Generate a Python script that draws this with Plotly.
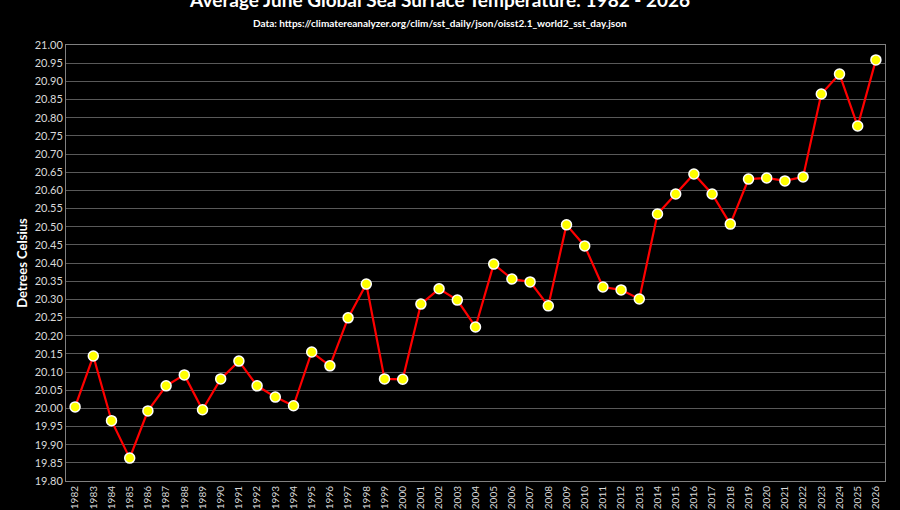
import plotly.graph_objects as go

years = [str(y) for y in range(1982, 2027)]
temps = [20.004, 20.144, 19.966, 19.863, 19.993, 20.062, 20.092, 19.996, 20.081, 20.130,
         20.062, 20.031, 20.007, 20.155, 20.117, 20.249, 20.342, 20.081, 20.080, 20.287,
         20.329, 20.298, 20.224, 20.397, 20.356, 20.348, 20.282, 20.505, 20.447, 20.334,
         20.326, 20.301, 20.535, 20.590, 20.645, 20.590, 20.507, 20.631, 20.634, 20.626,
         20.637, 20.865, 20.920, 20.777, 20.959]
y_ticks = [round(19.80 + 0.05 * i, 2) for i in range(25)]

title_text = "Average June Global Sea Surface Temperature: 1982 - 2026"
subtitle_text = "Data: https://climatereanalyzer.org/clim/sst_daily/json/oisst2.1_world2_sst_day.json"
ytitle_text = "Detrees Celsius"

FONT = "Lato, Carlito, Calibri, sans-serif"

fig = go.Figure()
fig.add_trace(go.Scatter(
    x=years, y=temps, mode="lines+markers",
    line=dict(color="#ff0000", width=2.2),
    marker=dict(color="#ffff00", size=10, line=dict(color="#ffffff", width=1.5)),
    showlegend=False, cliponaxis=False,
))

fig.update_layout(
    width=900, height=510,
    paper_bgcolor="#000000", plot_bgcolor="#000000",
    margin=dict(l=66, r=15, t=45, b=29),
    font=dict(family=FONT, color="#d9d9d9"),
    title=dict(text="<b>" + title_text + "</b>", x=0.489, xanchor="center",
               y=0.999, yanchor="middle", font=dict(size=19, color="#ffffff", family=FONT)),
    annotations=[dict(text="<b>" + subtitle_text + "</b>", xref="paper", yref="paper",
                      x=0.457, y=1.0505, xanchor="center", yanchor="middle", showarrow=False,
                      font=dict(size=10, color="#ffffff", family=FONT))],
    xaxis=dict(type="category", range=[-0.5, 44.5], tickangle=-90, showgrid=False,
               showline=True, linecolor="#808080", linewidth=1, mirror=True, automargin=False,
               ticks="", ticklen=0, tickfont=dict(size=10, color="#d9d9d9"), fixedrange=True),
    yaxis=dict(range=[19.80, 21.00], tickvals=y_ticks, ticktext=[f"{v:.2f}" for v in y_ticks],
               showgrid=True, gridcolor="#595959", gridwidth=1, automargin=False,
               showline=True, linecolor="#808080", linewidth=1, mirror=True,
               ticks="", tickfont=dict(size=11, color="#d9d9d9"), zeroline=False,
               title=dict(text="<b>" + ytitle_text + "</b>", standoff=4,
                          font=dict(size=13, color="#ffffff", family=FONT))),
)

fig.write_html("out.html")
